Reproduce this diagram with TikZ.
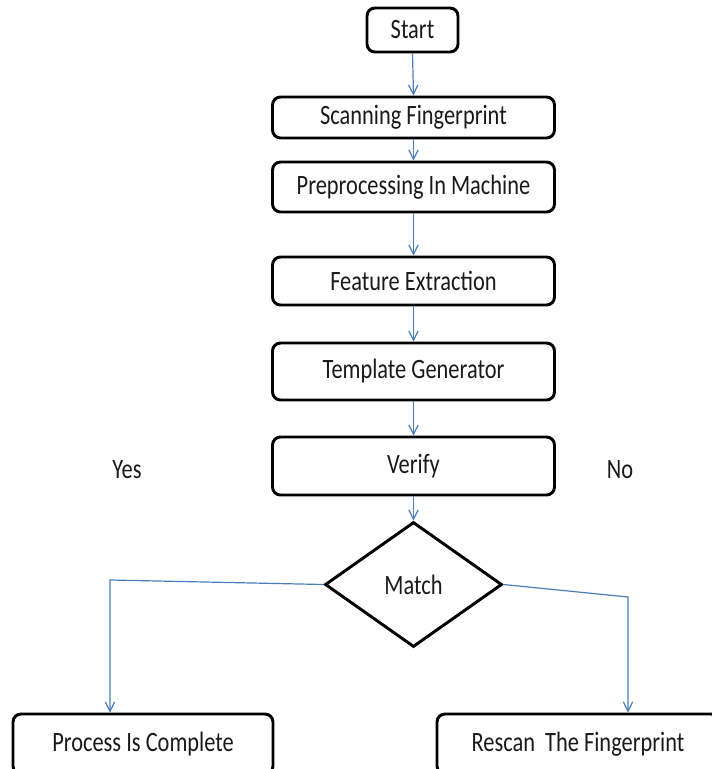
\documentclass[tikz,border=0pt]{standalone}
\usepackage{fontspec}
\setmainfont{Carlito}
\usepackage{graphicx}
\usetikzlibrary{shapes.geometric,arrows.meta}
\definecolor{arrblue}{HTML}{4A7EBB}
\definecolor{txt}{HTML}{1A1A1A}
\newcommand\sqz[1]{\scalebox{0.8}[1]{#1}}
\tikzset{
  stepbox/.style={draw=black, line width=2.2pt, rounded corners=6pt, fill=white,
    inner sep=0pt, text=txt, font=\fontsize{21}{25}\selectfont},
  decide/.style={diamond, draw=black, line width=2.2pt, fill=white, inner sep=0pt,
    text=txt, font=\fontsize{21}{25}\selectfont},
  lbl/.style={text=txt, font=\fontsize{21}{25}\selectfont, inner sep=0pt},
  arr/.style={draw=arrblue, line width=0.9pt, -{Straight Barb[length=7pt,width=7pt,line width=0.9pt]}},
}
\begin{document}
\begin{tikzpicture}[x=0.75pt,y=-0.75pt]
\useasboundingbox (0,0) rectangle (712,769);
\clip (0,0) rectangle (712,769);
\fill[white] (0,0) rectangle (712,769);

\node[stepbox, minimum width=68.25pt, minimum height=33pt] (start) at (412.5,30) {\sqz{Start}};
\node[stepbox, minimum width=211.5pt, minimum height=30.75pt] (scan) at (413.5,117.5) {\sqz{Scanning Fingerprint}};
\node[stepbox, minimum width=211.5pt, minimum height=37.5pt] (pre) at (413.5,187) {\sqz{Preprocessing In Machine}};
\node[stepbox, minimum width=211.5pt, minimum height=36pt] (feat) at (413.5,281) {\sqz{Feature Extraction}};
\node[stepbox, minimum width=211.5pt, minimum height=42.75pt] (tmpl) at (413.5,371.5) {\sqz{Template Generator}};
\node[stepbox, minimum width=211.5pt, minimum height=43.5pt] (ver) at (413.5,466) {\sqz{Verify}};
\node[decide, minimum width=132.75pt, minimum height=93.75pt] (match) at (413.5,584.5) {\sqz{Match}};
\node[stepbox, minimum width=195pt, minimum height=45pt] (done) at (143,744) {\sqz{Process Is Complete}};
\node[stepbox, minimum width=211.5pt, minimum height=45pt] (rescan) at (578,744) {\sqz{Rescan~ The Fingerprint}};

\node[lbl] (yes) at (127,470) {\sqz{Yes}};
\node[lbl] (no) at (620,470) {\sqz{No}};

\draw[arr] (start.south) -- (scan.north);
\draw[arr] (scan.south) -- (pre.north);
\draw[arr] (pre.south) -- (feat.north);
\draw[arr] (feat.south) -- (tmpl.north);
\draw[arr] (tmpl.south) -- (ver.north);
\draw[arr] (ver.south) -- (match.north);

\coordinate (lc) at (110,580);
\coordinate (rc) at (628,597);
\draw[arr] (match.west) -- (lc) -- (lc |- done.north);
\draw[arr] (match.east) -- (rc) -- (rc |- rescan.north);
\end{tikzpicture}
\end{document}
